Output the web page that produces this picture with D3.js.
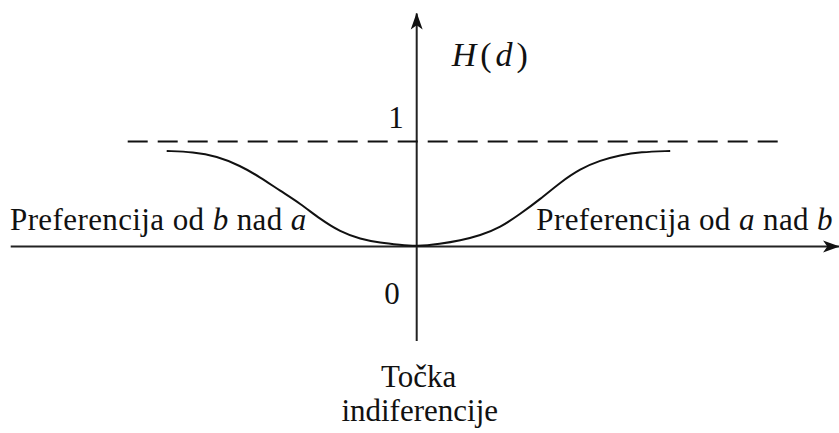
<!DOCTYPE html>
<meta charset="utf-8">

<style>

body { margin: 0; background: #fff; }

.axis-line {
	fill: none;
	stroke: #222;
	stroke-width: 2px;
}

.limit {
	fill: none;
	stroke: #111;
	stroke-width: 2px;
	stroke-dasharray: 20 10;
}

.curve {
	fill: none;
	stroke: #111;
	stroke-width: 2px;
}

text {
	font-family: "Liberation Serif", "Times New Roman", Times, "DejaVu Serif", serif;
	font-size: 31px;
	fill: #111;
}

.side { letter-spacing: 0.4px; }

.title {
	font-size: 34px;
	letter-spacing: 4px;
}

</style>

<body>

<script src="https://d3js.org/d3.v7.min.js"></script>

<script>

	// curve: d (preference difference) and H(d)
	var dValues = [-5.0, -4.47, -4.0, -3.53, -3.13, -2.73, -2.33, -1.93, -1.53, -1.13, -0.73, -0.33, 0,
	               0.47, 0.87, 1.27, 1.67, 2.07, 2.47, 2.87, 3.27, 3.67, 4.07, 4.47, 5.07];
	var hValues = [0.91, 0.9, 0.86, 0.77, 0.66, 0.53, 0.41, 0.26, 0.14, 0.07, 0.035, 0.015, 0,
	               0.025, 0.057, 0.105, 0.18, 0.31, 0.45, 0.61, 0.74, 0.82, 0.87, 0.9, 0.91];

	// extents of the drawn axes and of the dashed limit H = 1
	var xAxisExtent = [-8.12, 8.45];
	var yAxisExtent = [-0.9, 2.22];
	var limitExtent = [-5.78, 7.28];
	var limitValue = 1;

	// tick labels on the vertical axis
	var yTicks = [0, 1];

	var width = 839, height = 433;

	// set the ranges
	var x = d3.scaleLinear().domain([-5, 5]).range([166.7, 666.7]);
	var y = d3.scaleLinear().domain([0, 1]).range([246.5, 141.5]);

	var svg = d3.select("body").append("svg")
		.attr("width", width)
		.attr("height", height);

	// arrow heads
	var defs = svg.append("defs");
	defs.append("marker")
		.attr("id", "arrow")
		.attr("viewBox", "0 0 20 14")
		.attr("refX", 19)
		.attr("refY", 7)
		.attr("markerUnits", "userSpaceOnUse")
		.attr("markerWidth", 17)
		.attr("markerHeight", 13)
		.attr("orient", "auto")
		.append("path")
		.attr("d", "M0,0 L20,7 L0,14 L5,7 Z")
		.attr("fill", "#111");

	// x axis
	svg.append("line")
		.attr("class", "axis-line")
		.attr("x1", x(xAxisExtent[0]))
		.attr("x2", x(xAxisExtent[1]))
		.attr("y1", y(0))
		.attr("y2", y(0))
		.attr("marker-end", "url(#arrow)");

	// y axis
	svg.append("line")
		.attr("class", "axis-line")
		.attr("x1", x(0))
		.attr("x2", x(0))
		.attr("y1", y(yAxisExtent[0]))
		.attr("y2", y(yAxisExtent[1]))
		.attr("marker-end", "url(#arrow)");

	// dashed limit
	svg.append("line")
		.attr("class", "limit")
		.attr("x1", x(limitExtent[0]))
		.attr("x2", x(limitExtent[1]))
		.attr("y1", y(limitValue))
		.attr("y2", y(limitValue));

	// the curve
	var valueline = d3.line()
		.x(function(d, i) { return x(d); })
		.y(function(d, i) { return y(hValues[i]); })
		.curve(d3.curveBasis);

	svg.append("path")
		.datum(dValues)
		.attr("class", "curve")
		.attr("d", valueline);

	// tick labels
	svg.selectAll(".ytick")
		.data(yTicks)
		.enter().append("text")
		.attr("class", "ytick")
		.attr("x", function(d) { return d === 0 ? x(0) - 17 : x(0) - 13; })
		.attr("y", function(d) { return d === 0 ? y(d) + 57 : y(d) - 14; })
		.attr("text-anchor", "end")
		.text(function(d) { return d; });

	// axis title
	var title = svg.append("text")
		.attr("class", "title")
		.attr("x", x(0) + 35)
		.attr("y", 66);
	title.append("tspan").attr("font-style", "italic").text("H");
	title.append("tspan").text("(");
	title.append("tspan").attr("font-style", "italic").text("d");
	title.append("tspan").text(")");

	// side labels
	var left = svg.append("text")
		.attr("class", "side")
		.attr("x", 10)
		.attr("y", 230);
	left.append("tspan").text("Preferencija od ");
	left.append("tspan").attr("font-style", "italic").text("b");
	left.append("tspan").text(" nad ");
	left.append("tspan").attr("font-style", "italic").text("a");

	var right = svg.append("text")
		.attr("class", "side")
		.attr("x", 833)
		.attr("y", 230)
		.attr("text-anchor", "end");
	right.append("tspan").text("Preferencija od ");
	right.append("tspan").attr("font-style", "italic").text("a");
	right.append("tspan").text(" nad ");
	right.append("tspan").attr("font-style", "italic").text("b");

	// indifference point
	svg.append("text")
		.attr("x", x(0) + 2)
		.attr("y", 387)
		.attr("text-anchor", "middle")
		.text("Točka");
	svg.append("text")
		.attr("x", x(0) + 3)
		.attr("y", 421)
		.attr("text-anchor", "middle")
		.text("indiferencije");

</script>
</body>
